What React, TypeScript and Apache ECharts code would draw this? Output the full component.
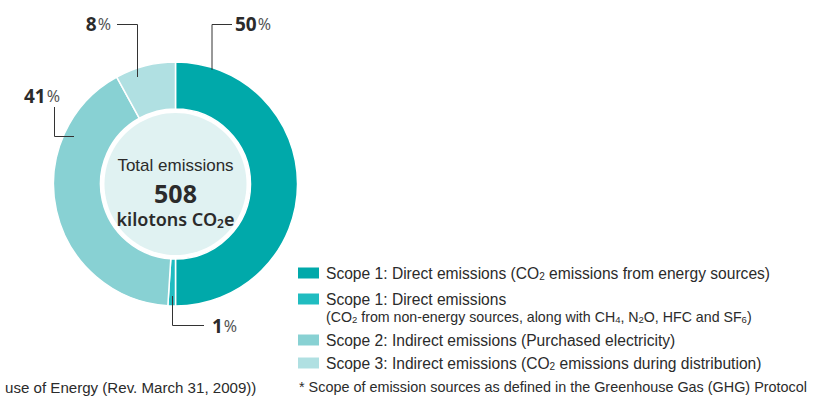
import React, { useEffect, useRef } from "react";
import * as echarts from "echarts";

// ---- data ----
const categories = [
  "Scope 1: Direct emissions (CO2 emissions from energy sources)",
  "Scope 1: Direct emissions",
  "Scope 2: Indirect emissions (Purchased electricity)",
  "Scope 3: Indirect emissions (CO2 emissions during distribution)",
];
const categoryNotes = ["", "(CO2 from non-energy sources, along with CH4, N2O, HFC and SF6)", "", ""];
const shares = [50, 1, 41, 8];
const colors = ["#00a9aa", "#20bcc0", "#88d1d3", "#b0e0e2"];
const totalLabel = "Total emissions";
const totalValue = 508;
const totalUnit = "kilotons CO2e";
const footnote = "* Scope of emission sources as defined in the Greenhouse Gas (GHG) Protocol";
const leftNote = "use of Energy (Rev. March 31, 2009))";

// ---- layout (not data) ----
const CX = 175.5;
const CY = 184;
const labelPos = [
  { x: 235, y: 24, align: "left" },
  { x: 212, y: 326, align: "left" },
  { x: 24, y: 96, align: "left" },
  { x: 111, y: 24, align: "right" },
];
const leaderPts = [
  [[212, 70], [212, 24.5], [232, 24.5]],
  [[172.5, 296], [172.5, 325.5], [204, 325.5]],
  [[74, 136.5], [54.5, 136.5], [54.5, 107]],
  [[137.5, 77], [137.5, 24.5], [117, 24.5]],
];
const legendRows = [273, 299, 340, 363];

const sub = (t: string) => t.replace(/(CO|CH|N|SF)(\d)/g, "$1{s|$2}");

export default function App() {
  const ref = useRef<HTMLDivElement>(null);
  useEffect(() => {
    if (!ref.current) return;
    const chart = echarts.init(ref.current, undefined, { renderer: "svg" });
    const textColor = "#2b2b2b";
    const legendFont = "'Liberation Sans', Arial, sans-serif";
    const graphics: any[] = [];

    graphics.push({
      type: "circle",
      shape: { cx: CX, cy: CY, r: 71 },
      style: { fill: "#e0f2f2" },
      silent: true,
    });

    // percentage labels & leader lines
    shares.forEach((v, i) => {
      graphics.push({
        type: "polyline",
        shape: { points: leaderPts[i] },
        style: { stroke: "#333", lineWidth: 1, fill: null },
        z: 10,
      });
      graphics.push({
        type: "text",
        x: labelPos[i].x,
        y: labelPos[i].y,
        z: 10,
        style: {
          text: `{v|${v}}{p|%}`,
          align: labelPos[i].align,
          verticalAlign: "middle",
          rich: {
            v: { fontFamily: "'Noto Sans', sans-serif", fontWeight: "bold", fontSize: 19, fill: "#2b2b2b" },
            p: { fontFamily: "'Noto Sans', sans-serif", fontWeight: "normal", fontSize: 16, fill: "#555", padding: [0, 0, 0, 1] },
          },
        },
      });
    });

    // center text
    graphics.push({
      type: "text",
      x: CX,
      y: 165,
      style: {
        text: totalLabel,
        align: "center",
        verticalAlign: "middle",
        fontFamily: legendFont,
        fontSize: 17,
        fill: textColor,
      },
    });
    graphics.push({
      type: "text",
      x: CX,
      y: 193,
      style: {
        text: String(totalValue),
        align: "center",
        verticalAlign: "middle",
        fontFamily: "'Noto Sans', sans-serif",
        fontWeight: "bold",
        fontSize: 25,
        lineHeight: 26,
        fill: textColor,
      },
    });
    graphics.push({
      type: "text",
      x: CX,
      y: 219,
      style: {
        text: sub(totalUnit),
        align: "center",
        verticalAlign: "middle",
        fontFamily: "'Noto Sans', sans-serif",
        fontWeight: 600,
        fontSize: 18,
        lineHeight: 20,
        fill: textColor,
        rich: {
          s: { fontFamily: "'Noto Sans', sans-serif", fontWeight: 600, fontSize: 12, fill: textColor, verticalAlign: "bottom", lineHeight: 16 },
        },
      },
    });

    // legend
    categories.forEach((name, i) => {
      const y = legendRows[i];
      graphics.push({
        type: "rect",
        shape: { x: 298, y: y - 5.5, width: 21, height: 11 },
        style: { fill: colors[i] },
      });
      graphics.push({
        type: "text",
        x: 326,
        y: y,
        style: {
          text: sub(name),
          verticalAlign: "middle",
          fontFamily: legendFont,
          fontSize: 15.6,
          fill: textColor,
          rich: { s: { fontFamily: legendFont, fontSize: 10, fill: textColor, verticalAlign: "bottom", lineHeight: 15 } },
        },
      });
      if (categoryNotes[i]) {
        graphics.push({
          type: "text",
          x: 326,
          y: y + 18,
          style: {
            text: sub(categoryNotes[i]),
            verticalAlign: "middle",
            fontFamily: legendFont,
            fontSize: 14.2,
            fill: textColor,
            rich: { s: { fontFamily: legendFont, fontSize: 9.5, fill: textColor, verticalAlign: "bottom", lineHeight: 14 } },
          },
        });
      }
    });

    graphics.push({
      type: "text",
      x: 299,
      y: 387,
      style: { text: footnote, verticalAlign: "middle", fontFamily: legendFont, fontSize: 14.4, fill: textColor },
    });
    graphics.push({
      type: "text",
      x: 5,
      y: 387,
      style: { text: leftNote, verticalAlign: "middle", fontFamily: legendFont, fontSize: 15.1, fill: textColor },
    });

    chart.setOption({
      animation: false,
      backgroundColor: "#ffffff",
      series: [
        {
          type: "pie",
          center: [CX, CY],
          radius: [75, 122],
          startAngle: 90,
          clockwise: true,
          silent: true,
          avoidLabelOverlap: false,
          label: { show: false },
          labelLine: { show: false },
          itemStyle: { borderColor: "#ffffff", borderWidth: 1.5 },
          data: shares.map((v, i) => ({ name: categories[i], value: v, itemStyle: { color: colors[i] } })),
        },
      ],
      graphic: graphics,
    });
    return () => chart.dispose();
  }, []);
  return <div ref={ref} style={{ position: "fixed", left: 0, top: 0, width: 826, height: 399 }} />;
}
